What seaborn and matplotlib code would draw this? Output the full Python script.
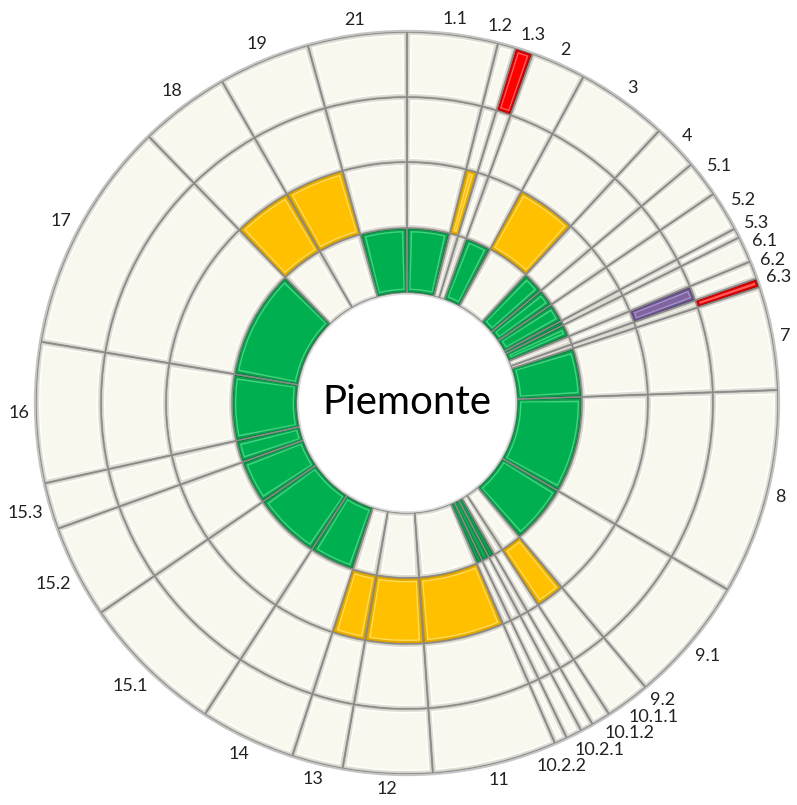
import numpy as np
import matplotlib
matplotlib.use("Agg")
import matplotlib.pyplot as plt
from matplotlib.patches import Wedge
import seaborn as sns

# segments clockwise from 12 o'clock
segments = ['1.1', '1.2', '1.3', '2', '3', '4', '5.1', '5.2', '5.3', '6.1', '6.2', '6.3',
            '7', '8', '9.1', '9.2', '10.1.1', '10.1.2', '10.2.1', '10.2.2', '11', '12', '13',
            '14', '15.1', '15.2', '15.3', '16', '17', '18', '19', '21']
sizes = [14.2, 2.8, 2.8, 8.6, 14.4, 7.2, 5.7, 6.3, 1.5, 4.1, 2.8, 1.4,
         16.2, 32.2, 19.8, 7.0, 3.0, 2.0, 2.5, 2.0, 19.5, 14.0, 8.0,
         15.0, 22.6, 14.6, 7.3, 22.0, 36.4, 14.2, 14.4, 15.5]

# status per ring, inner -> outer (n = none, g = green, y = yellow, p = purple, r = red)
ring1 = ['g', 'n', 'n', 'g', 'n', 'g', 'g', 'g', 'g', 'g', 'n', 'n',
         'g', 'g', 'g', 'n', 'n', 'g', 'g', 'g', 'n', 'n', 'n',
         'g', 'g', 'g', 'g', 'g', 'g', 'n', 'n', 'g']
ring2 = ['n', 'y', 'n', 'n', 'y', 'n', 'n', 'n', 'n', 'n', 'n', 'n',
         'n', 'n', 'n', 'y', 'n', 'n', 'n', 'n', 'y', 'y', 'y',
         'n', 'n', 'n', 'n', 'n', 'n', 'y', 'y', 'n']
ring3 = ['n'] * 10 + ['p'] + ['n'] * 21
ring4 = ['n', 'n', 'r'] + ['n'] * 8 + ['r'] + ['n'] * 20
center_label = 'Piemonte'

# edge shade, bevel band, highlight, face
palette = {
    'n': ('#C2C0B6', '#DFDDD3', '#FFFFFC', '#F9F8EF'),
    'g': ('#007A35', '#0E9E4B', '#3FD482', '#00B050'),
    'y': ('#C99500', '#E6AC00', '#FFDA55', '#FFC000'),
    'r': ('#B00000', '#D80000', '#FF5A5A', '#FF0000'),
    'p': ('#54416E', '#6A5490', '#A690C4', '#8064A2'),
}

sns.set_theme(style="white")
plt.rcParams['font.family'] = ['Lato', 'DejaVu Sans']

W, H = 797, 805
cx, cy = 407, 403
fig = plt.figure(figsize=(W / 100, H / 100), dpi=100)
ax = fig.add_axes([0, 0, 1, 1])

r_hole = 110
r_edges = [175, 241, 306, 371]
insets = [1.3, 3.0, 4.4]

ends = np.cumsum(sizes)
starts = ends - np.array(sizes)


def draw_ring(codes, r_in, r_out):
    ax.pie(sizes, radius=r_out, colors=[palette[c][0] for c in codes], startangle=90,
           counterclock=False, wedgeprops=dict(width=r_out - r_in, linewidth=0))
    for k, d in enumerate(insets, start=1):
        ri, ro = r_in + d, r_out - d
        da = np.degrees(d / ((ri + ro) / 2))
        for t1, t2, c in zip(starts, ends, codes):
            if t2 - t1 > 2 * da:
                ax.add_patch(Wedge((0, 0), ro, 90 - t2 + da, 90 - t1 - da, width=ro - ri,
                                   facecolor=palette[c][k], linewidth=0))
    ax.pie(sizes, radius=r_out, colors=['none'] * len(sizes), startangle=90, counterclock=False,
           wedgeprops=dict(width=r_out - r_in, linewidth=1.0, edgecolor='#8A8A8A'))


inner = [r_hole] + r_edges[:-1]
for codes, r_in, r_out in zip([ring1, ring2, ring3, ring4], inner, r_edges):
    draw_ring(codes, r_in, r_out)

ax.add_patch(plt.Circle((0, 0), r_edges[-1] + 1.2, fill=False, edgecolor='#C4C4C4', linewidth=1.4))
ax.add_patch(plt.Circle((0, 0), r_hole - 1.0, fill=False, edgecolor='#DADADA', linewidth=1.2))

ax.set_xlim(-cx, W - cx)
ax.set_ylim(-(H - cy), cy)
ax.set_aspect('equal')
ax.axis('off')

ax.text(0, -11, center_label, ha='center', va='baseline', fontsize=29, color='#000000')

# outside labels, pushed apart (mostly backwards) where they collide
mids = ends - np.array(sizes) / 2
texts = [ax.text(0, 0, s, ha='center', va='center', fontsize=13, color='#222222') for s in segments]
fig.canvas.draw()
rend = fig.canvas.get_renderer()
dims = []
for t in texts:
    bb = t.get_window_extent(rend)
    dims.append((bb.width, bb.height * 0.95))

pad = 7


def place(a, w, h):
    s, c = np.sin(np.radians(a)), np.cos(np.radians(a))
    r = r_edges[-1] + pad + abs(s) * w / 2 + abs(c) * h / 2
    return r * s, r * c


def overlap(i, j, angs):
    xi, yi = place(angs[i], *dims[i])
    xj, yj = place(angs[j], *dims[j])
    return (abs(xi - xj) < (dims[i][0] + dims[j][0]) / 2 + 8 and
            abs(yi - yj) < (dims[i][1] + dims[j][1]) / 2 + 1)


angs = mids.copy()
for it in range(3000):
    moved = False
    for i in range(len(angs) - 1):
        if overlap(i, i + 1, angs):
            angs[i] -= 0.16
            angs[i + 1] += 0.05
            moved = True
    if not moved:
        break

for t, a, d in zip(texts, angs, dims):
    t.set_position(place(a, *d))

fig.savefig('out.png', dpi=100)
